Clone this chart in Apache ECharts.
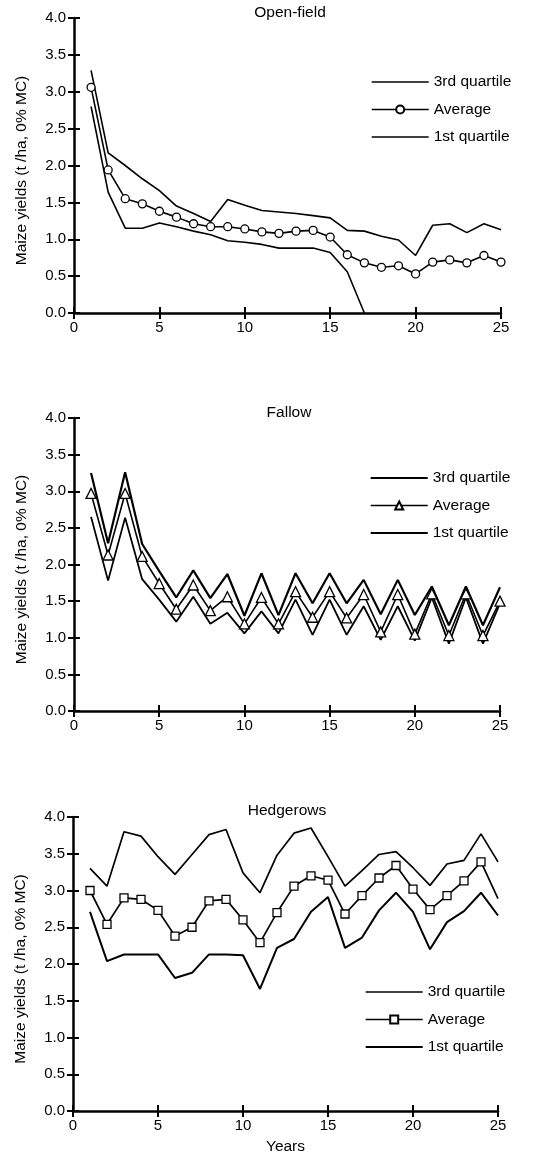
<!DOCTYPE html>
<html>
<head>
<meta charset="utf-8">
<script src="https://cdn.jsdelivr.net/npm/echarts@6/dist/echarts.min.js"></script>
<style>
html,body{margin:0;padding:0;background:#fff;}
#c{width:537px;height:1151px;}
</style>
</head>
<body>
<div id="c"></div>
<script>
const years = [1,2,3,4,5,6,7,8,9,10,11,12,13,14,15,16,17,18,19,20,21,22,23,24,25];
const yTicks = [0,0.5,1,1.5,2,2.5,3,3.5,4];
const xTicks = [0,5,10,15,20,25];
const panelTitles = ['Open-field','Fallow','Hedgerows'];
const seriesLabels = ['3rd quartile','Average','1st quartile'];

const openUpper = [3.29,2.17,2.00,1.82,1.66,1.45,1.35,1.24,1.54,1.46,1.39,1.37,1.35,1.32,1.29,1.12,1.11,1.04,0.99,0.78,1.19,1.21,1.09,1.21,1.13];
const openAvg   = [3.06,1.94,1.55,1.48,1.38,1.30,1.21,1.17,1.17,1.14,1.10,1.08,1.11,1.12,1.03,0.79,0.68,0.62,0.64,0.53,0.69,0.72,0.68,0.78,0.69];
const openLower = [2.80,1.64,1.15,1.15,1.22,1.17,1.11,1.06,0.98,0.96,0.93,0.88,0.88,0.88,0.82,0.56,0.00];

const fallowUpper = [3.25,2.29,3.26,2.28,1.91,1.55,1.92,1.54,1.87,1.30,1.88,1.31,1.88,1.47,1.88,1.47,1.79,1.32,1.79,1.31,1.70,1.17,1.70,1.17,1.69];
const fallowAvg   = [2.97,2.13,2.97,2.11,1.74,1.39,1.72,1.37,1.56,1.19,1.55,1.19,1.63,1.28,1.63,1.27,1.59,1.08,1.59,1.05,1.60,1.03,1.60,1.03,1.50];
const fallowLower = [2.65,1.78,2.64,1.80,1.52,1.22,1.56,1.19,1.34,1.06,1.36,1.06,1.52,1.04,1.52,1.04,1.43,0.97,1.43,0.96,1.55,0.92,1.55,0.92,1.47];

const hedgeUpper = [3.30,3.06,3.80,3.74,3.46,3.22,3.49,3.76,3.83,3.24,2.97,3.48,3.78,3.85,3.46,3.06,3.27,3.49,3.53,3.31,3.07,3.36,3.41,3.77,3.39];
const hedgeAvg   = [3.00,2.54,2.90,2.88,2.73,2.38,2.50,2.86,2.88,2.60,2.29,2.70,3.06,3.20,3.14,2.68,2.93,3.17,3.34,3.02,2.74,2.93,3.13,3.39,2.89];
const hedgeLower = [2.71,2.04,2.13,2.13,2.13,1.81,1.88,2.13,2.13,2.12,1.66,2.22,2.34,2.71,2.91,2.22,2.36,2.73,2.97,2.71,2.20,2.57,2.72,2.97,2.66];

const FONT = 'Liberation Sans, Arial, Helvetica, sans-serif';
const FS = 15.5;

const grids = [
  {left:74, right:36, top:18, height:295, outerBoundsMode:'none', containLabel:false},
  {left:74, right:37, top:418, height:293, outerBoundsMode:'none', containLabel:false},
  {left:73, right:39, top:817, height:294, outerBoundsMode:'none', containLabel:false}
];
const legendPos = [{left:371, top:74},{left:370, top:470},{left:365, top:984}];
const titlePos = [{x:290, y:5},{x:289, y:405},{x:287, y:803}];
const lineWidths = [[1.6,1.6,1.6],[2.2,1.6,1.8],[1.7,1.7,2.0]];

const xAxes = [], yAxes = [];
grids.forEach((g, i) => {
  const axLine = {show:true, lineStyle:{color:'#000', width:2.5}};
  xAxes.push({
    type:'value', gridIndex:i, min:xTicks[0], max:xTicks[xTicks.length-1], interval:5,
    axisLine:axLine, axisTick:{show:true, length:6, lineStyle:{color:'#000', width:2}},
    axisLabel:{color:'#000', fontSize:15, fontFamily:FONT, margin:7},
    splitLine:{show:false},
    name: i === 2 ? 'Years' : '', nameLocation:'middle', nameGap:28,
    nameTextStyle:{color:'#000', fontSize:FS, fontFamily:FONT}
  });
  xAxes.push({
    type:'value', gridIndex:i, min:0, max:25, interval:5, position:'bottom',
    axisLine:{show:false}, axisTick:{show:true, inside:true, length:6, lineStyle:{color:'#000', width:2}},
    axisLabel:{show:false}, splitLine:{show:false}
  });
  yAxes.push({
    type:'value', gridIndex:i, min:yTicks[0], max:yTicks[yTicks.length-1], interval:0.5,
    axisLine:axLine, axisTick:{show:true, length:6, lineStyle:{color:'#000', width:2}},
    axisLabel:{color:'#000', fontSize:15, fontFamily:FONT, margin:8, formatter:v => v.toFixed(1)},
    splitLine:{show:false},
    name:'Maize yields (t /ha, 0% MC)', nameLocation:'middle', nameGap:44,
    nameTextStyle:{color:'#000', fontSize:FS, fontFamily:FONT, padding:[0,10,0,0]}
  });
  yAxes.push({
    type:'value', gridIndex:i, min:0, max:4, interval:0.5, position:'left',
    axisLine:{show:false}, axisTick:{show:true, inside:true, length:6, lineStyle:{color:'#000', width:2}},
    axisLabel:{show:false}, splitLine:{show:false}
  });
});

function mk(panel, k, ys, symbol, lastNoSymbol) {
  const data = ys.map((v, i) => {
    if (lastNoSymbol && i === ys.length - 1) return {value:[years[i], v], symbol:'none'};
    return [years[i], v];
  });
  return {
    type:'line', name: panelTitles[panel] + '|' + seriesLabels[k],
    xAxisIndex: panel*2, yAxisIndex: panel*2,
    data: data,
    symbol: symbol || 'none', symbolSize: symbol === 'triangle' ? 10 : 8,
    showSymbol: !!symbol,
    lineStyle:{color:'#000', width:lineWidths[panel][k]},
    itemStyle:{color:'#fff', borderColor:'#000', borderWidth:1.3},
    emphasis:{disabled:true},
    z: symbol ? 3 : 2,
    animation:false
  };
}

const series = [
  mk(0, 0, openUpper), mk(0, 1, openAvg, 'circle'), mk(0, 2, openLower),
  mk(1, 0, fallowUpper), mk(1, 1, fallowAvg, 'triangle'), mk(1, 2, fallowLower),
  mk(2, 0, hedgeUpper), mk(2, 1, hedgeAvg, 'rect', true), mk(2, 2, hedgeLower)
];

function lineIcon(w) {
  return 'path://M0,0 L57,0 L57,' + w + ' L0,' + w + ' Z';
}

const legends = panelTitles.map((t, i) => ({
  data: seriesLabels.map((l, k) => k === 1
    ? {name: t + '|' + l, lineStyle:{width:1.4, color:'#000'}}
    : {name: t + '|' + l, icon: lineIcon(lineWidths[i][k]),
       itemStyle:{color:'#000', borderWidth:0}}),
  formatter: n => n.split('|')[1],
  orient:'vertical', left:legendPos[i].left, top:legendPos[i].top, padding:0,
  itemWidth:57, itemHeight:10, itemGap:11.5, selectedMode:false,
  textStyle:{color:'#000', fontSize:FS, fontFamily:FONT}
}));

const titles = panelTitles.map((t, i) => ({
  text:t, left:titlePos[i].x, top:titlePos[i].y, textAlign:'center', padding:0,
  textStyle:{color:'#000', fontSize:FS, fontWeight:'normal', fontFamily:FONT}
}));

const chart = echarts.init(document.getElementById('c'), null, {renderer:'canvas'});
chart.setOption({
  backgroundColor:'#fff',
  animation:false,
  title:titles,
  legend:legends,
  grid:grids,
  xAxis:xAxes,
  yAxis:yAxes,
  series:series
});
</script>
</body>
</html>
